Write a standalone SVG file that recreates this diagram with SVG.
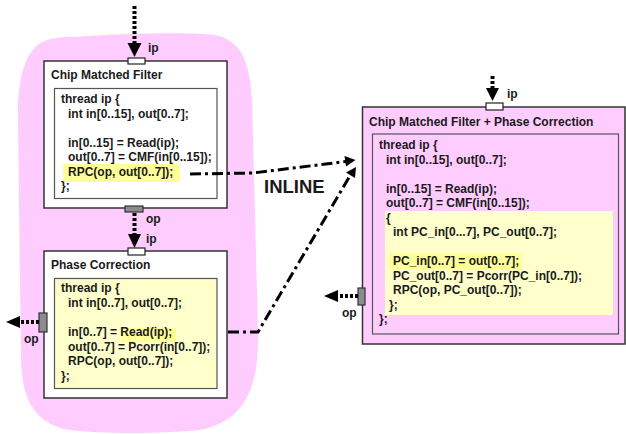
<svg xmlns="http://www.w3.org/2000/svg" width="626" height="434" viewBox="0 0 626 434">
<style>
text{font-family:"Liberation Sans",Arial,sans-serif;font-weight:bold;fill:#1a1a1a}
.t{font-size:12px}
.c{font-size:12px}
.lbl{font-size:12px}
.box{stroke:#333;stroke-width:1.5}
.inner{stroke:#555;stroke-width:1.2}
.ipport{fill:#fff;stroke:#222;stroke-width:1.2}
.opport{fill:#8c8c8c;stroke:#333;stroke-width:1.2}
.dot{fill:none;stroke:#000;stroke-width:4;stroke-dasharray:3 2}
.dd{fill:none;stroke:#000;stroke-width:3;stroke-dasharray:11 4 3 4}
.head{fill:#000}
</style>
<path d="M 70,37 C 130,33 190,32 215,35 C 240,40 250,60 252,100 L 258,330 C 259,380 250,420 200,430 C 160,434 100,434 70,430 C 35,424 22,400 21,360 L 18,120 C 17,80 25,48 45,41 C 52,38 60,37 70,37 Z" fill="#ffccff"/>
<g id="cmf">
<rect class="box" x="44" y="61" width="183" height="147" fill="#fff"/>
<text class="t" x="51" y="79">Chip Matched Filter</text>
<rect class="inner" x="54.5" y="88.5" width="162.5" height="110" fill="#fff"/>
<rect x="63" y="164" width="117" height="18" fill="#ffff99"/>
<text class="c" x="61" y="103">thread ip {</text>
<text class="c" x="68" y="117.5">int in[0..15], out[0..7];</text>
<text class="c" x="68" y="146.5">in[0..15] = Read(ip);</text>
<text class="c" x="68" y="161">out[0..7] = CMF(in[0..15]);</text>
<text class="c" x="68" y="175.5">RPC(op, out[0..7]);</text>
<text class="c" x="61" y="190">};</text>
<rect class="ipport" x="128" y="58" width="17" height="6"/>
<rect class="opport" x="125" y="206" width="18" height="6"/>
<text class="lbl" x="148" y="52">ip</text>
<text class="lbl" x="146" y="223">op</text>
</g>
<g id="pc">
<rect class="box" x="44" y="251" width="183" height="147" fill="#fff"/>
<text class="t" x="51" y="269">Phase Correction</text>
<rect class="inner" x="54.5" y="278.5" width="162.5" height="110" fill="#ffffcc"/>
<rect x="121" y="328" width="55" height="14" fill="#ffff99"/>
<text class="c" x="61" y="292">thread ip {</text>
<text class="c" x="68" y="306.5">int in[0..7], out[0..7];</text>
<text class="c" x="68" y="336">in[0..7] = Read(ip);</text>
<text class="c" x="68" y="350.5">out[0..7] = Pcorr(in[0..7]);</text>
<text class="c" x="68" y="365">RPC(op, out[0..7]);</text>
<text class="c" x="61" y="379.5">};</text>
<rect class="ipport" x="128" y="248" width="17" height="7"/>
<rect class="opport" x="39" y="313" width="8" height="19"/>
<text class="lbl" x="146" y="243">ip</text>
<text class="lbl" x="24" y="343">op</text>
</g>
<g id="merged">
<rect class="box" x="362.5" y="107" width="262.5" height="237" fill="#ffccff"/>
<text class="t" x="369" y="126">Chip Matched Filter + Phase Correction</text>
<rect class="inner" x="372.5" y="134" width="246" height="200" fill="#ffccff"/>
<rect x="385" y="211" width="228" height="104" fill="#ffffcc"/>
<rect x="389" y="253" width="133" height="17" fill="#ffff99"/>
<text class="c" x="379" y="149">thread ip {</text>
<text class="c" x="386" y="163.5">int in[0..15], out[0..7];</text>
<text class="c" x="386" y="192.5">in[0..15] = Read(ip);</text>
<text class="c" x="386" y="207">out[0..7] = CMF(in[0..15]);</text>
<text class="c" x="386" y="221.5">{</text>
<text class="c" x="393" y="236">int PC_in[0...7], PC_out[0..7];</text>
<text class="c" x="393" y="265">PC_in[0..7] = out[0..7];</text>
<text class="c" x="393" y="279.5">PC_out[0..7] = Pcorr(PC_in[0..7]);</text>
<text class="c" x="393" y="294">RPC(op, PC_out[0..7]);</text>
<text class="c" x="389" y="308.5">};</text>
<text class="c" x="379" y="323">};</text>
<rect class="ipport" x="486" y="103" width="17" height="7"/>
<rect class="opport" x="358" y="288" width="7" height="17"/>
<text class="lbl" x="507" y="98">ip</text>
<text class="lbl" x="342" y="317">op</text>
</g>
<g id="connectors">
<line class="dot" x1="134.5" y1="6" x2="134.5" y2="44"/>
<polygon class="head" points="127.5,43 141.5,43 134.5,57"/>
<line class="dot" x1="134.5" y1="213" x2="134.5" y2="235"/>
<polygon class="head" points="128,234 141,234 134.5,248"/>
<line class="dot" x1="39" y1="322" x2="18" y2="322"/>
<polygon class="head" points="20,316 20,328 6,322"/>
<line class="dot" x1="492.5" y1="76" x2="492.5" y2="89"/>
<polygon class="head" points="486,88 499,88 492.5,101"/>
<line class="dot" x1="358" y1="296" x2="336" y2="296"/>
<polygon class="head" points="338,290 338,302 324,296"/>
<polyline class="dd" points="190,174 253,173 346,161.5"/>
<polygon class="head" points="344.5,156 355.5,160 346,166.5"/>
<polyline class="dd" points="228,332 258,332 351,174"/>
<polygon class="head" points="346,172.5 356,167 355,178"/>
<text x="264" y="193" style="font-size:18.5px">INLINE</text>
</g>
</svg>
